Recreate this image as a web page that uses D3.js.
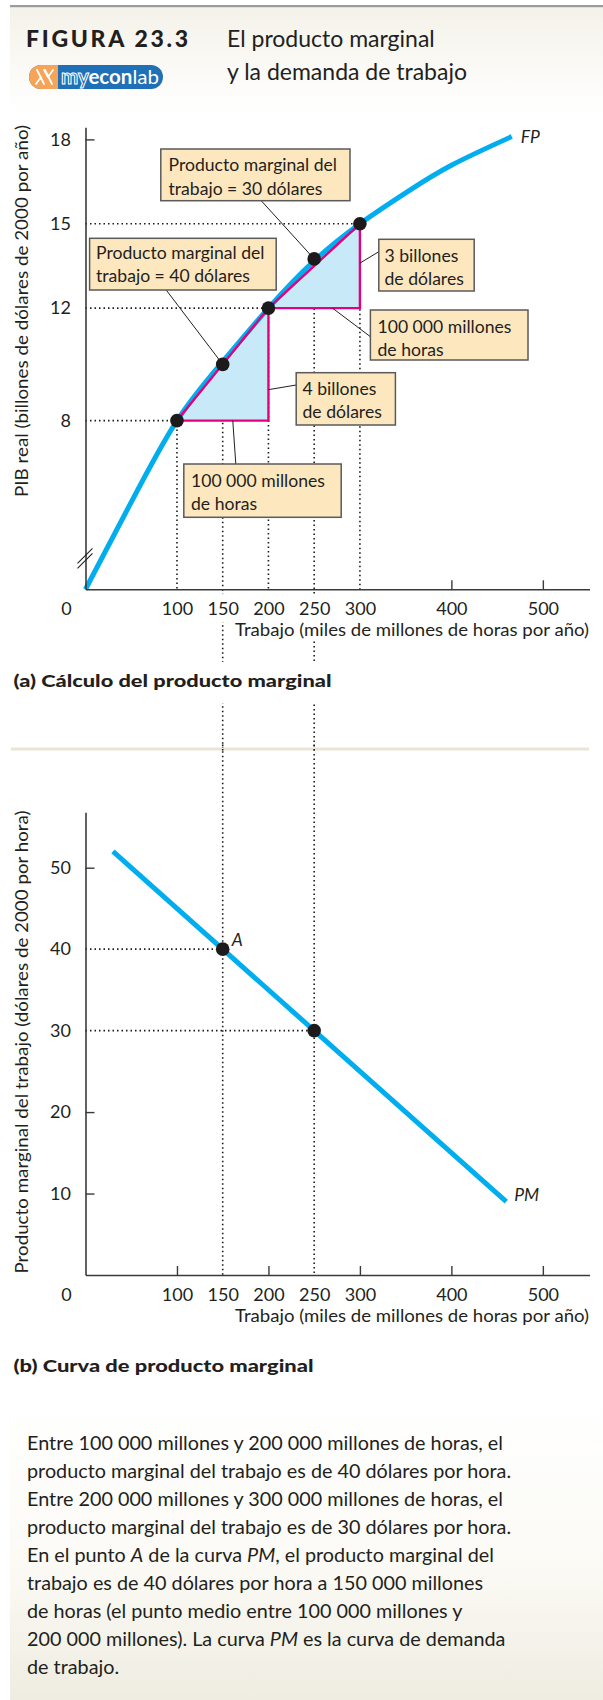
<!DOCTYPE html>
<html><head><meta charset="utf-8">
<script src="https://cdn.jsdelivr.net/npm/d3@7"></script>
<style>
body{margin:0;background:#fff}
svg text{font-family:Lato,"Open Sans",sans-serif;fill:#231f20}
</style>
</head><body>
<svg id="chart" width="603" height="1700"></svg>
<script>
// ---------- DATA ----------
const xTickValues = [100, 150, 200, 250, 300, 400, 500];
const xTicksDottedA = [100, 150, 200, 250, 300];
const xTicksDottedB = [150, 250];
const yTickValuesA = [8, 12, 15, 18];
const yTicksDottedA = [8, 12, 15];
const yTickValuesB = [10, 20, 30, 40, 50];
const yTicksDottedB = [30, 40];

// Production function FP (labor, real GDP)
const fpLabor = [0, 50, 100, 150, 200, 250, 300, 350, 400, 466];
const fpGDP   = [2, 5.1, 8, 10.1, 12, 13.68, 15, 16.1, 17.08, 18.1];

// Marked points on FP
const markLabor = [100, 150, 200, 250, 300];
const markGDP   = [8, 10, 12, 13.75, 15];

// Triangles (change in labor / change in GDP)
const triLaborFrom = [100, 200];
const triLaborTo   = [200, 300];
const triGDPFrom   = [8, 12];
const triGDPTo     = [12, 15];

// Marginal product curve PM
const pmLabor = [30, 460];
const pmValue = [52, 9];
const pmPointLabor = [150, 250];
const pmPointValue = [40, 30];
const pmPointNames = ["A", ""];

const descLines = [
  ["Entre 100 000 millones y 200 000 millones de horas, el"],
  ["producto marginal del trabajo es de 40 dólares por hora."],
  ["Entre 200 000 millones y 300 000 millones de horas, el"],
  ["producto marginal del trabajo es de 30 dólares por hora."],
  ["En el punto ", "*A", " de la curva ", "*PM", ", el producto marginal del"],
  ["trabajo es de 40 dólares por hora a 150 000 millones"],
  ["de horas (el punto medio entre 100 000 millones y"],
  ["200 000 millones). La curva ", "*PM", " es la curva de demanda"],
  ["de trabajo."]
];

// ---------- LAYOUT ----------
const svg = d3.select("#chart");
const C = {blue:"#00aeef", magenta:"#e6007e", tri:"#c8e9f8", box:"#fde7bf", boxStroke:"#5a5a5a", axis:"#3a3a3a", dot:"#1c1a1b"};
const DOT = {w:1.6, dash:"1.5,3"};

const defs = svg.append("defs");
const g1 = defs.append("linearGradient").attr("id","hdr").attr("x1",0).attr("x2",0).attr("y1",0).attr("y2",1);
g1.append("stop").attr("offset","0%").attr("stop-color","#f4f2e9");
g1.append("stop").attr("offset","100%").attr("stop-color","#ffffff");
const g2 = defs.append("linearGradient").attr("id","ftr").attr("x1",0).attr("x2",0).attr("y1",0).attr("y2",1);
g2.append("stop").attr("offset","0%").attr("stop-color","#ffffff");
g2.append("stop").attr("offset","55%").attr("stop-color","#fbfaf5");
g2.append("stop").attr("offset","100%").attr("stop-color","#efede1");

// backgrounds
svg.append("rect").attr("x",10).attr("y",7).attr("width",593).attr("height",105).attr("fill","url(#hdr)");
svg.append("rect").attr("x",10).attr("y",5).attr("width",593).attr("height",2.2).attr("fill","#9b9b9b");
svg.append("rect").attr("x",10).attr("y",1400).attr("width",593).attr("height",300).attr("fill","url(#ftr)");

// header
svg.append("text").attr("x",26).attr("y",47).attr("font-size",23).attr("font-weight",900)
  .attr("textLength",162).attr("lengthAdjust","spacing").text("FIGURA 23.3");
svg.append("text").attr("x",227).attr("y",47).attr("font-size",23).text("El producto marginal");
svg.append("text").attr("x",227).attr("y",80).attr("font-size",23).text("y la demanda de trabajo");

// logo
defs.append("clipPath").attr("id","pill").append("rect")
  .attr("x",29).attr("y",65).attr("width",134).attr("height",24).attr("rx",12);
const logo = svg.append("g");
logo.append("rect").attr("x",29).attr("y",65).attr("width",134).attr("height",24).attr("rx",12).attr("fill","#1f70b6");
logo.append("rect").attr("x",29).attr("y",65).attr("width",29).attr("height",24).attr("fill","#f6a458").attr("clip-path","url(#pill)");
logo.append("path").attr("d","M37,70 L44,84 M45,70 L52,84 M41,77 L36,84 M48,77 L44,70 M53,70 L48,77")
  .attr("stroke","#fff").attr("stroke-width",1.8).attr("fill","none").attr("stroke-linecap","round");
const lt = logo.append("text").attr("x",61).attr("y",84).attr("font-size",20).attr("textLength",98).attr("lengthAdjust","spacingAndGlyphs");
lt.append("tspan").attr("font-weight",700).style("fill","#1f70b6").attr("stroke","#fff").attr("stroke-width",1).text("my");
lt.append("tspan").attr("font-weight",700).style("fill","#fff").text("econ");
lt.append("tspan").attr("font-weight",400).style("fill","#fff").text("lab");

// ---------- SCALES ----------
const x = d3.scaleLinear().domain([0, 551]).range([85.5, 589.5]);
const yA = d3.scaleLinear().domain([2, 18.43]).range([589.3, 127.3]);
const yB = d3.scaleLinear().domain([0, 56.8]).range([1275, 812.3]);

// ---------- DOTTED GUIDES ----------
const guides = svg.append("g").attr("stroke","#1c1a1b").attr("stroke-width",DOT.w).attr("stroke-dasharray",DOT.dash).attr("fill","none");
yTicksDottedA.forEach(v => {
  const i = markGDP.indexOf(v);
  guides.append("line").attr("x1",x(0)).attr("x2",x(markLabor[i])).attr("y1",yA(v)).attr("y2",yA(v));
});
markLabor.forEach((l,i) => {
  if (xTicksDottedB.includes(l)) return;
  guides.append("line").attr("x1",x(l)).attr("x2",x(l)).attr("y1",yA(markGDP[i])).attr("y2",yA(2));
});
xTicksDottedB.forEach(l => {
  const i = markLabor.indexOf(l);
  guides.append("line").attr("x1",x(l)).attr("x2",x(l)).attr("y1",yA(markGDP[i])).attr("y2",yB(0));
});
pmPointLabor.forEach((l,i) => {
  guides.append("line").attr("x1",x(0)).attr("x2",x(l)).attr("y1",yB(pmPointValue[i])).attr("y2",yB(pmPointValue[i]));
});

// ---------- PANEL A ----------
const pa = svg.append("g");
triLaborFrom.forEach((l0,i) => {
  const pts = [[x(l0),yA(triGDPFrom[i])],[x(triLaborTo[i]),yA(triGDPFrom[i])],[x(triLaborTo[i]),yA(triGDPTo[i])]];
  pa.append("path").attr("d","M"+pts.join("L")+"Z").attr("fill",C.tri).attr("stroke","none");
});
const fpData = fpLabor.map((l,i)=>[l,fpGDP[i]]);
pa.append("path").datum(fpData)
  .attr("d", d3.line().x(d=>x(d[0])).y(d=>yA(d[1])).curve(d3.curveNatural))
  .attr("fill","none").attr("stroke",C.blue).attr("stroke-width",5);
triLaborFrom.forEach((l0,i) => {
  const pts = [[x(l0),yA(triGDPFrom[i])],[x(triLaborTo[i]),yA(triGDPFrom[i])],[x(triLaborTo[i]),yA(triGDPTo[i])]];
  pa.append("path").attr("d","M"+pts.join("L")+"Z").attr("fill","none").attr("stroke",C.magenta).attr("stroke-width",2.4).attr("stroke-linejoin","miter");
});

const axA = pa.append("g").attr("transform",`translate(0,${yA(2)})`)
  .call(d3.axisBottom(x).tickValues(xTickValues).tickSizeInner(-9).tickSizeOuter(0).tickPadding(13));
axA.selectAll(".tick line").filter(d=>xTicksDottedA.includes(d)).remove();
const ayA = pa.append("g").attr("transform",`translate(${x(0)},0)`)
  .call(d3.axisLeft(yA).tickValues(yTickValuesA).tickSizeInner(-9).tickSizeOuter(0).tickPadding(14.5));
ayA.selectAll(".tick line").filter(d=>yTicksDottedA.includes(d)).remove();

pa.append("path").attr("d",`M${x(0)-8},${yA(2)-26} L${x(0)+7},${yA(2)-41} M${x(0)-8},${yA(2)-21} L${x(0)+7},${yA(2)-36}`)
  .attr("stroke","#231f20").attr("stroke-width",1.1).attr("fill","none");

// ---------- PANEL B ----------
const pb = svg.append("g");
const pmData = pmLabor.map((l,i)=>[l,pmValue[i]]);
pb.append("path").datum(pmData).attr("d", d3.line().x(d=>x(d[0])).y(d=>yB(d[1])))
  .attr("fill","none").attr("stroke",C.blue).attr("stroke-width",5);
const axB = pb.append("g").attr("transform",`translate(0,${yB(0)})`)
  .call(d3.axisBottom(x).tickValues(xTickValues).tickSizeInner(-9).tickSizeOuter(0).tickPadding(13));
axB.selectAll(".tick line").filter(d=>xTicksDottedB.includes(d)).remove();
const ayB = pb.append("g").attr("transform",`translate(${x(0)},0)`)
  .call(d3.axisLeft(yB).tickValues(yTickValuesB).tickSizeInner(-9).tickSizeOuter(0).tickPadding(14.5));
ayB.selectAll(".tick line").filter(d=>yTicksDottedB.includes(d)).remove();

[axA, ayA, axB, ayB].forEach(a => {
  a.attr("font-family",null).attr("font-size",null);
  a.select(".domain").attr("stroke",C.axis).attr("stroke-width",1.6);
  a.selectAll(".tick line").attr("stroke",C.axis).attr("stroke-width",1.4);
  a.selectAll(".tick text").attr("font-size",18).style("fill","#231f20");
});
function haloUnder(sel, pad) {
  sel.each(function(){
    const b = this.getBBox();
    d3.select(this.parentNode).insert("rect","text").attr("x",b.x-pad[0]).attr("y",b.y-pad[1]).attr("width",b.width+2*pad[0]).attr("height",b.height+pad[1]+pad[2]).attr("fill","#fff");
  });
}
haloUnder(axA.selectAll(".tick text").filter(d=>xTicksDottedB.includes(d)), [2,3,3]);

[yA(2), yB(0)].forEach(yy => svg.append("text").attr("x",x(0)-19).attr("y",yy+25.7).attr("text-anchor","middle").attr("font-size",18).text("0"));

function xTitle(yy){
  return svg.append("text").attr("x",589).attr("y",yy).attr("text-anchor","end").attr("font-size",17.6)
    .attr("textLength",354).attr("lengthAdjust","spacingAndGlyphs").text("Trabajo (miles de millones de horas por año)");
}
const tA = xTitle(636);
xTitle(1321.5);
{
  const b = tA.node().getBBox();
  svg.insert("rect", function(){return tA.node();}).attr("x",b.x-1).attr("y",b.y-2).attr("width",b.width+2).attr("height",b.height+3).attr("fill","#fff");
}
svg.append("text").attr("transform","translate(28,311) rotate(-90)").attr("text-anchor","middle").attr("font-size",17.6)
  .attr("textLength",372).attr("lengthAdjust","spacingAndGlyphs").text("PIB real (billones de dólares de 2000 por año)");
svg.append("text").attr("transform","translate(28,1042) rotate(-90)").attr("text-anchor","middle").attr("font-size",17.6)
  .attr("textLength",463).attr("lengthAdjust","spacingAndGlyphs").text("Producto marginal del trabajo (dólares de 2000 por hora)");

const labA = svg.append("text").attr("x",13.5).attr("y",686.5).attr("font-size",17.5).attr("font-weight",900)
  .attr("textLength",318).attr("lengthAdjust","spacingAndGlyphs").text("(a) Cálculo del producto marginal");
{
  const b = labA.node().getBBox();
  svg.insert("rect", function(){return labA.node();}).attr("x",b.x).attr("y",662).attr("width",b.width).attr("height",41).attr("fill","#fff");
}
svg.append("rect").attr("x",11).attr("y",747.5).attr("width",578).attr("height",3).attr("fill","#e9e5d6");
xTicksDottedB.forEach(l => svg.append("line").attr("x1",x(l)).attr("x2",x(l)).attr("y1",744.5).attr("y2",753.5)
  .attr("stroke","#1c1a1b").attr("stroke-width",DOT.w).attr("stroke-dasharray",DOT.dash));
svg.append("text").attr("x",13.5).attr("y",1371.5).attr("font-size",17.5).attr("font-weight",900)
  .attr("textLength",300).attr("lengthAdjust","spacingAndGlyphs").text("(b) Curva de producto marginal");

// ---------- ANNOTATIONS (panel a) ----------
const ann = svg.append("g");
function box(x0,y0,x1,y1,lines,tx,baselines,leaderFrom,leaderTo){
  ann.append("line").attr("x1",leaderFrom[0]).attr("y1",leaderFrom[1]).attr("x2",leaderTo[0]).attr("y2",leaderTo[1])
    .attr("stroke","#231f20").attr("stroke-width",1);
  ann.append("rect").attr("x",x0).attr("y",y0).attr("width",x1-x0).attr("height",y1-y0)
    .attr("fill",C.box).attr("stroke",C.boxStroke).attr("stroke-width",1.5);
  lines.forEach((s,i)=>ann.append("text").attr("x",tx).attr("y",baselines[i]).attr("font-size",17.6).text(s));
}
box(160.8,149,350,200.7,["Producto marginal del","trabajo = 30 dólares"],168.5,[171,194.5],[261.5,201],[x(250),yA(13.75)]);
box(89.6,238.3,276.2,290,["Producto marginal del","trabajo = 40 dólares"],96,[258.5,281.5],[166.2,290],[x(150),yA(10)]);
box(378.8,239.3,474.2,291,["3 billones","de dólares"],384.5,[261.5,285],[378.8,251.7],[x(300),yA(13.6)]);
box(370.4,310,528,360,["100 000 millones","de horas"],377.5,[332.5,355.5],[370.4,336.7],[x(270),yA(12)]);
box(296.2,372.7,395.4,425,["4 billones","de dólares"],302.5,[395,418],[296.2,385],[x(200),yA(9.1)]);
box(183.8,464,341.2,517.3,["100 000 millones","de horas"],191,[486.5,509.5],[235.8,464],[x(161),yA(8)]);

// ---------- DOTS & LABELS ----------
svg.append("g").selectAll("circle").data(markLabor).join("circle")
  .attr("cx",d=>x(d)).attr("cy",(d,i)=>yA(markGDP[i])).attr("r",6.8).attr("fill",C.dot);
svg.append("g").selectAll("circle").data(pmPointLabor).join("circle")
  .attr("cx",d=>x(d)).attr("cy",(d,i)=>yB(pmPointValue[i])).attr("r",6.8).attr("fill",C.dot);
pmPointLabor.forEach((l,i)=>{ if(pmPointNames[i]) svg.append("text").attr("x",x(l)+9).attr("y",yB(pmPointValue[i])-3.5)
  .attr("font-size",17.5).attr("font-style","italic").text(pmPointNames[i]); });
svg.append("text").attr("x",x(fpLabor[fpLabor.length-1])+9).attr("y",yA(fpGDP[fpGDP.length-1])+6).attr("font-size",17.5).attr("font-style","italic").text("FP");
svg.append("text").attr("x",x(pmLabor[1])+8).attr("y",yB(pmValue[1])-1).attr("font-size",17.5).attr("font-style","italic").text("PM");

// ---------- DESCRIPTION ----------
descLines.forEach((parts,i)=>{
  const t = svg.append("text").attr("x",27).attr("y",1450+i*28.05).attr("font-size",19.8);
  parts.forEach(p=>{
    if (p.startsWith("*")) t.append("tspan").attr("font-style","italic").text(p.slice(1));
    else t.append("tspan").text(p);
  });
});
</script>
</body></html>
